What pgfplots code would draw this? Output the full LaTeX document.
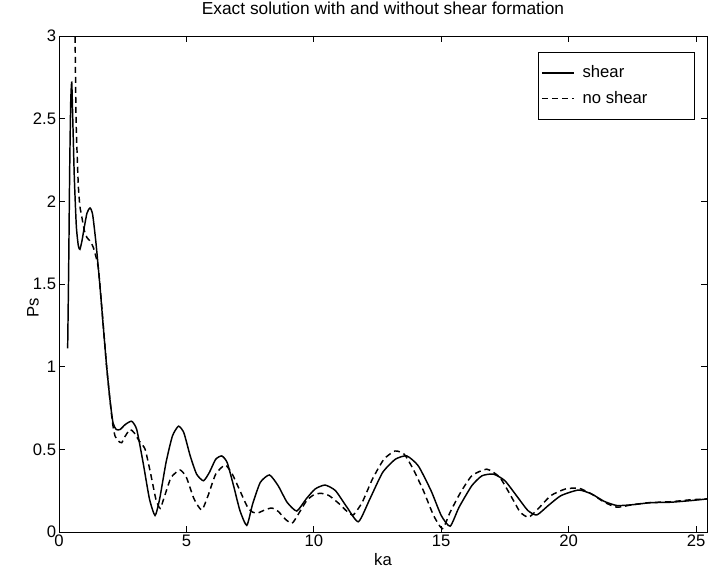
\documentclass[border=0pt]{standalone}
\usepackage{fontspec}
\setmainfont{Liberation Sans}
\usepackage{pgfplots}
\pgfplotsset{compat=1.18}
\newcommand{\lbl}{\fontsize{12.5pt}{15pt}\selectfont}
\newcommand{\ttl}{\fontsize{13pt}{15pt}\selectfont}
\begin{document}
\lbl
\begin{tikzpicture}
\path[use as bounding box] (-44.25pt,-31.5pt) rectangle (487.5pt,399pt);
\begin{axis}[
  scale only axis,
  width=486pt, height=372pt,
  at={(0,0)}, anchor=south west,
  xmin=0, xmax=25.43, ymin=0, ymax=3,
  xtick={0,5,10,15,20,25},
  ytick={0,0.5,1,1.5,2,2.5,3},
  tick align=inside,
  tick pos=both,
  major tick length=4.5pt,
  /pgf/number format/assume math mode=true,
  tick label style={font=\lbl},
  xticklabel style={inner sep=1pt, yshift=-1pt},
  yticklabel style={inner sep=1pt, xshift=-1pt},
  title={Exact solution with and without shear formation},
  title style={at={(axis description cs:0.5,1)}, anchor=south, yshift=6pt, font=\ttl},
  xlabel={ka},
  xlabel style={at={(axis description cs:0.5,0)}, anchor=north, yshift=-12pt, font=\lbl},
  ylabel={Ps},
  ylabel style={at={(axis description cs:-0.04,0.452)}, anchor=center, font=\lbl},
  axis line style={line width=0.6pt},
  every tick/.style={black, line width=0.6pt},
  legend style={at={(rel axis cs:0.9815,0.9677)}, anchor=north east, draw=black, line width=0.6pt,
    inner xsep=2pt, inner ysep=8pt, row sep=4pt,
    font=\lbl},
  legend cell align=left,
  legend image code/.code={\draw[#1] (0pt,0pt) -- (24pt,0pt);},
]
\addplot[black, line width=1.1pt, smooth, tension=0.35] coordinates {
(0.34,1.11) (0.38,1.6) (0.42,2.2) (0.46,2.6) (0.50,2.72) (0.54,2.5) (0.60,2.15) (0.68,1.85) (0.76,1.73) (0.82,1.71) (0.90,1.76) (1.0,1.85) (1.1,1.93) (1.22,1.96) (1.32,1.92) (1.45,1.75) (1.6,1.5) (1.75,1.22) (1.87,1.0) (2.0,0.8) (2.12,0.66) (2.25,0.62) (2.4,0.62) (2.6,0.65) (2.85,0.67) (3.05,0.62) (3.3,0.42) (3.55,0.2) (3.77,0.1) (3.95,0.2) (4.2,0.42) (4.45,0.58) (4.69,0.64) (4.9,0.6) (5.15,0.46) (5.4,0.35) (5.67,0.31) (5.9,0.36) (6.15,0.44) (6.39,0.46) (6.6,0.42) (6.85,0.28) (7.1,0.13) (7.37,0.04) (7.6,0.17) (7.9,0.3) (8.26,0.345) (8.6,0.28) (8.95,0.18) (9.33,0.127) (9.7,0.2) (10.05,0.26) (10.44,0.284) (10.85,0.25) (11.3,0.15) (11.75,0.062) (12.2,0.2) (12.7,0.36) (13.2,0.44) (13.65,0.46) (14.1,0.4) (14.6,0.25) (15.0,0.1) (15.35,0.035) (15.7,0.15) (16.2,0.28) (16.6,0.34) (17.05,0.35) (17.5,0.31) (18.0,0.21) (18.4,0.13) (18.75,0.103) (19.2,0.16) (19.7,0.22) (20.39,0.254) (20.9,0.23) (21.4,0.185) (21.9,0.16) (22.5,0.165) (23.2,0.177) (24.0,0.18) (24.8,0.19) (25.43,0.2)
};
\addlegendentry{\makebox[84pt][l]{\hspace{4pt}shear}}
\addplot[black, line width=1.1pt, dash pattern=on 4.5pt off 3pt, smooth, tension=0.35] coordinates {
(0.58,3.6) (0.63,3.0) (0.67,2.49) (0.72,2.25) (0.76,2.09) (0.82,1.97) (0.89,1.91) (1.0,1.82) (1.1,1.78) (1.22,1.76) (1.35,1.72) (1.54,1.6) (1.7,1.32) (1.87,1.0) (2.0,0.8) (2.1,0.66) (2.2,0.58) (2.33,0.55) (2.46,0.54) (2.6,0.58) (2.79,0.62) (2.95,0.6) (3.15,0.55) (3.38,0.5) (3.6,0.35) (3.8,0.2) (3.97,0.143) (4.15,0.22) (4.4,0.33) (4.75,0.375) (5.0,0.33) (5.3,0.2) (5.6,0.133) (5.85,0.22) (6.15,0.35) (6.52,0.405) (6.8,0.35) (7.1,0.25) (7.4,0.15) (7.6,0.12) (7.8,0.115) (8.1,0.135) (8.35,0.145) (8.6,0.125) (8.9,0.075) (9.15,0.053) (9.4,0.11) (9.72,0.19) (10.0,0.225) (10.28,0.234) (10.6,0.22) (11.0,0.17) (11.3,0.125) (11.55,0.103) (11.9,0.18) (12.3,0.32) (12.75,0.44) (13.19,0.49) (13.55,0.47) (13.9,0.38) (14.3,0.25) (14.7,0.1) (15.05,0.02) (15.35,0.12) (15.74,0.234) (16.2,0.34) (16.79,0.38) (17.3,0.33) (17.8,0.2) (18.1,0.12) (18.43,0.089) (18.8,0.14) (19.3,0.22) (19.87,0.26) (20.4,0.265) (20.9,0.23) (21.4,0.18) (21.9,0.15) (22.5,0.165) (23.2,0.178) (24.0,0.183) (24.8,0.195) (25.43,0.2)
};
\addlegendentry{\makebox[84pt][l]{\hspace{4pt}no shear}}
\end{axis}
\end{tikzpicture}
\end{document}
